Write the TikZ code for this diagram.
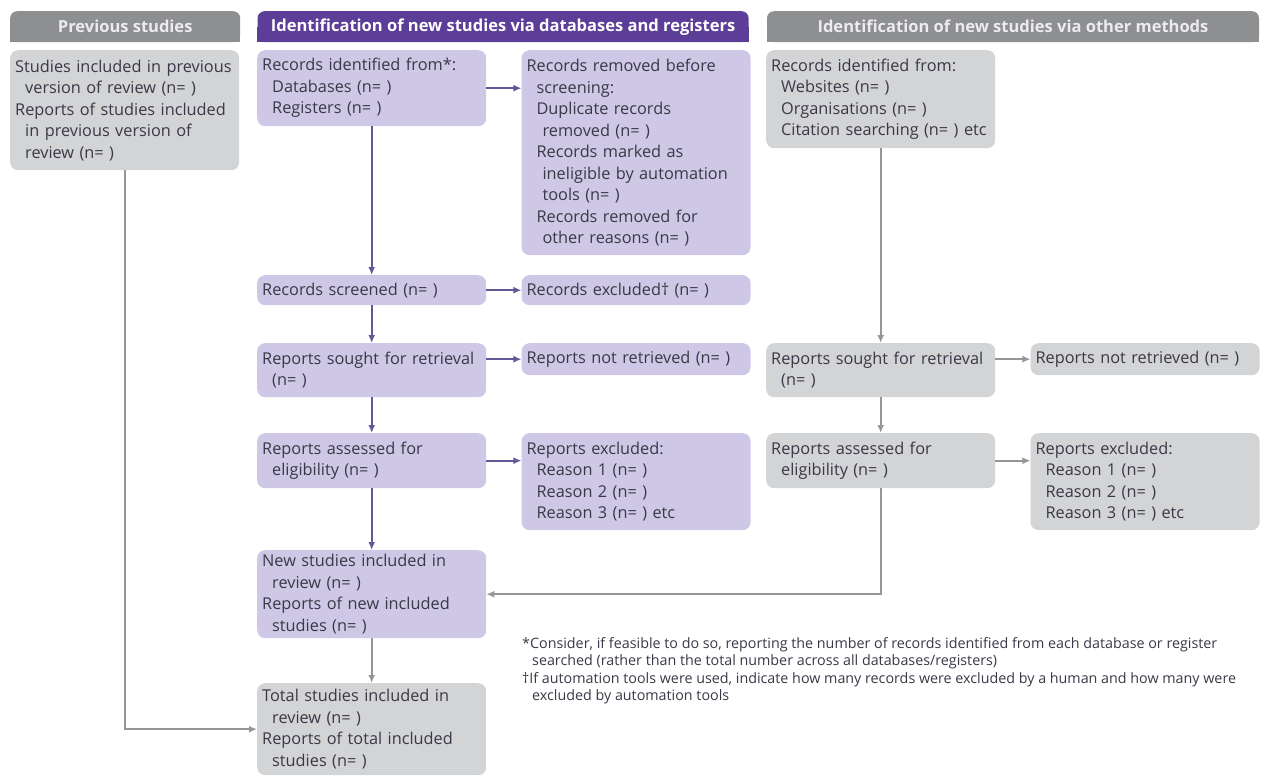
\documentclass[tikz,border=0pt]{standalone}
\usepackage{fontspec}
\setmainfont{Open Sans}
\usetikzlibrary{positioning,arrows.meta,backgrounds}

\definecolor{hdrpurple}{RGB}{92,62,152}
\definecolor{hdrgray}{RGB}{142,143,145}
\definecolor{hdrtxt}{RGB}{236,236,238}
\definecolor{boxpurple}{RGB}{206,200,230}
\definecolor{boxgray}{RGB}{211,212,214}
\definecolor{arrpurple}{RGB}{98,88,150}
\definecolor{arrgray}{RGB}{150,150,152}
\definecolor{txtdark}{RGB}{58,56,70}

\newcommand{\ind}{\hspace*{10pt}}
\newcommand{\iind}{\hspace*{16pt}}

\begin{document}
\begin{tikzpicture}[x=1pt,y=-1pt,
  box/.style={anchor=north west,rounded corners=8pt,text width=219pt,inner xsep=5pt,inner ysep=4pt,
    align=left,text=txtdark,font=\fontsize{16.3}{21.5}\selectfont},
  pbox/.style={box,fill=boxpurple},
  gbox/.style={box,fill=boxgray},
  hdr/.style={anchor=north west,rounded corners=7pt,minimum height=31pt,inner sep=0pt,
    font=\fontsize{16.5}{18}\selectfont\bfseries},
  parr/.style={-{Latex[length=8pt,width=7pt]},line width=2pt,draw=arrpurple},
  garr/.style={-{Latex[length=8pt,width=7pt]},line width=2pt,draw=arrgray}]
  \useasboundingbox (0,0) rectangle (1262,779);

  % headers
  \node[hdr,fill=hdrgray,text=hdrtxt,minimum width=230pt] (hprev) at (10,11) {Previous studies};
  \node[hdr,fill=hdrpurple,text=white,minimum width=491pt,right=17pt of hprev.north east,anchor=north west] (hdb)
    {Identification of new studies via databases and registers};
  \node[hdr,fill=hdrgray,text=hdrtxt,minimum width=492pt,right=18pt of hdb.north east,anchor=north west] (hoth)
    {Identification of new studies via other methods};
  \begin{scope}[on background layer]
    \fill[hdrgray] (hprev.west) rectangle (hprev.south east);
    \fill[hdrpurple] (hdb.west) rectangle (hdb.south east);
    \fill[hdrgray] (hoth.west) rectangle (hoth.south east);
  \end{scope}

  % identification
  \node[gbox,minimum height=120pt] (prev) at (10,50)
    {Studies included in previous\\ \ind version of review (n= )\\ Reports of studies included\\
     \ind in previous version of\\ \ind review (n= )};
  \node[pbox,minimum height=76pt] (ident) at (257,50)
    {Records identified from*:\\ \ind Databases (n= )\\ \ind Registers (n= )};
  \node[pbox,minimum height=205pt,right=35pt of ident.north east,anchor=north west] (removed)
    {Records removed before\\ \ind screening:\\ \ind Duplicate records\\ \iind removed (n= )\\
     \ind Records marked as\\ \iind ineligible by automation\\ \iind tools (n= )\\
     \ind Records removed for\\ \iind other reasons (n= )};
  \node[gbox,minimum height=98pt] (oident) at (766,50)
    {Records identified from:\\ \ind Websites (n= )\\ \ind Organisations (n= )\\ \ind Citation searching (n= ) etc};

  % screening
  \node[pbox,minimum height=30pt] (screen) at (257,275) {Records screened (n= )};
  \node[pbox,minimum height=30pt,right=35pt of screen.north east,anchor=north west] (excl) {Records excluded† (n= )};
  \node[pbox,minimum height=54pt] (sought) at (257,343) {Reports sought for retrieval\\ \ind (n= )};
  \node[pbox,minimum height=32pt,right=35pt of sought.north east,anchor=north west] (nretr) {Reports not retrieved (n= )};
  \node[pbox,minimum height=55pt] (assess) at (257,433) {Reports assessed for\\ \ind eligibility (n= )};
  \node[pbox,minimum height=97pt,right=35pt of assess.north east,anchor=north west] (rexcl)
    {Reports excluded:\\ \ind Reason 1 (n= )\\ \ind Reason 2 (n= )\\ \ind Reason 3 (n= ) etc};
  \node[gbox,minimum height=54pt] (osought) at (766,343) {Reports sought for retrieval\\ \ind (n= )};
  \node[gbox,minimum height=32pt,right=35pt of osought.north east,anchor=north west] (onretr) {Reports not retrieved (n= )};
  \node[gbox,minimum height=55pt] (oassess) at (766,433) {Reports assessed for\\ \ind eligibility (n= )};
  \node[gbox,minimum height=97pt,right=35pt of oassess.north east,anchor=north west] (orexcl)
    {Reports excluded:\\ \ind Reason 1 (n= )\\ \ind Reason 2 (n= )\\ \ind Reason 3 (n= ) etc};

  % included
  \node[pbox,minimum height=88pt] (newst) at (257,550)
    {New studies included in\\ \ind review (n= )\\ Reports of new included\\ \ind studies (n= )};
  \node[gbox,minimum height=92pt] (total) at (257,683)
    {Total studies included in\\ \ind review (n= )\\ Reports of total included\\ \ind studies (n= )};

  \node[anchor=north west,inner sep=0pt,align=left,text=txtdark,font=\fontsize{14.3}{17.5}\selectfont] (note) at (522,637)
    {*Consider, if feasible to do so, reporting the number of records identified from each database or register\\
     \ind searched (rather than the total number across all databases/registers)\\
     †If automation tools were used, indicate how many records were excluded by a human and how many were\\
     \ind excluded by automation tools};

  % connectors
  \draw[parr] (ident.east) -- (ident.east -| removed.west);
  \draw[parr] (ident) -- (screen);
  \draw[parr] (screen) -- (excl);
  \draw[parr] (screen) -- (sought);
  \draw[parr] (nretr.west -| sought.east) -- (nretr.west);
  \draw[parr] (sought) -- (assess);
  \draw[parr] (assess.east) -- (assess.east -| rexcl.west);
  \draw[parr] (assess) -- (newst);
  \draw[garr] (newst) -- (total);
  \draw[garr] (oident) -- (osought);
  \draw[garr] (onretr.west -| osought.east) -- (onretr.west);
  \draw[garr] (osought) -- (oassess);
  \draw[garr] (oassess.east) -- (oassess.east -| orexcl.west);
  \draw[garr] (oassess.south) |- (newst.east);
  \draw[garr] (prev.south) |- (total.west);
\end{tikzpicture}
\end{document}
